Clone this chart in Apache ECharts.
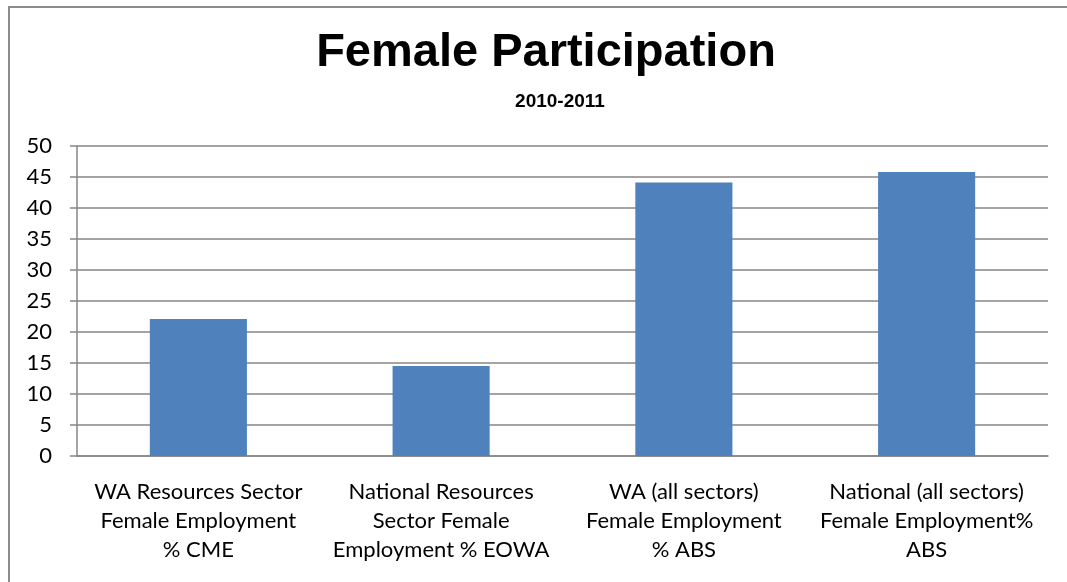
<!DOCTYPE html>
<html>
<head>
<meta charset="utf-8">
<script src="https://cdn.jsdelivr.net/npm/echarts@6/dist/echarts.min.js"></script>
<style>
  html, body { margin: 0; padding: 0; background: #fff; }
  #frame { position: absolute; left: 8px; top: 6px; width: 1070px; height: 590px; border: 2px solid #8c8c8c; box-sizing: border-box; }
  #chart { position: absolute; left: 0; top: 0; width: 1067px; height: 582px; }
</style>
</head>
<body>
<div id="frame"></div>
<div id="chart"></div>
<script>
// categories and values
var categories = [
  'WA Resources Sector\nFemale Employment\n% CME',
  'National Resources\nSector Female\nEmployment % EOWA',
  'WA (all sectors)\nFemale Employment\n% ABS',
  'National (all sectors)\nFemale Employment%\nABS'
]
var values = [22.1, 14.5, 44.1, 45.8]
var yTicks = { min: 0, max: 50, interval: 5 }

var chart = echarts.init(document.getElementById('chart'))

chart.setOption({
  animation: false,
  title: [
    {
      text: 'Female Participation',
      left: 541,
      top: 25,
      textAlign: 'center',
      textStyle: {
        fontFamily: 'Liberation Sans',
        fontWeight: 'bold',
        fontSize: 47,
        color: '#000'
      }
    },
    {
      text: '2010-2011',
      left: 555,
      top: 87,
      textAlign: 'center',
      textStyle: {
        fontFamily: 'Liberation Sans',
        fontWeight: 'bold',
        fontSize: 19,
        color: '#000'
      }
    }
  ],
  grid: {
    left: 77,
    right: 19,
    top: 146,
    bottom: 126
  },
  xAxis: {
    type: 'category',
    data: categories,
    axisLine: { lineStyle: { color: '#868686', width: 1.5 } },
    axisTick: { length: 6, lineStyle: { color: '#868686', width: 1.5 } },
    axisLabel: {
      fontFamily: 'Lato',
      fontSize: 22,
      color: '#000',
      lineHeight: 29,
      margin: 21,
      interval: 0
    }
  },
  yAxis: {
    type: 'value',
    min: yTicks.min,
    max: yTicks.max,
    interval: yTicks.interval,
    axisLine: { show: true, lineStyle: { color: '#868686', width: 1.5 } },
    axisTick: { show: true, length: 7, lineStyle: { color: '#868686', width: 1.5 } },
    axisLabel: {
      fontFamily: 'Lato',
      fontSize: 22,
      color: '#000',
      margin: 25
    },
    splitLine: { lineStyle: { color: '#868686', width: 1.5 } }
  },
  series: [
    {
      type: 'bar',
      data: values,
      barWidth: '40%',
      itemStyle: { color: '#4f81bd' }
    }
  ]
})
</script>
</body>
</html>
